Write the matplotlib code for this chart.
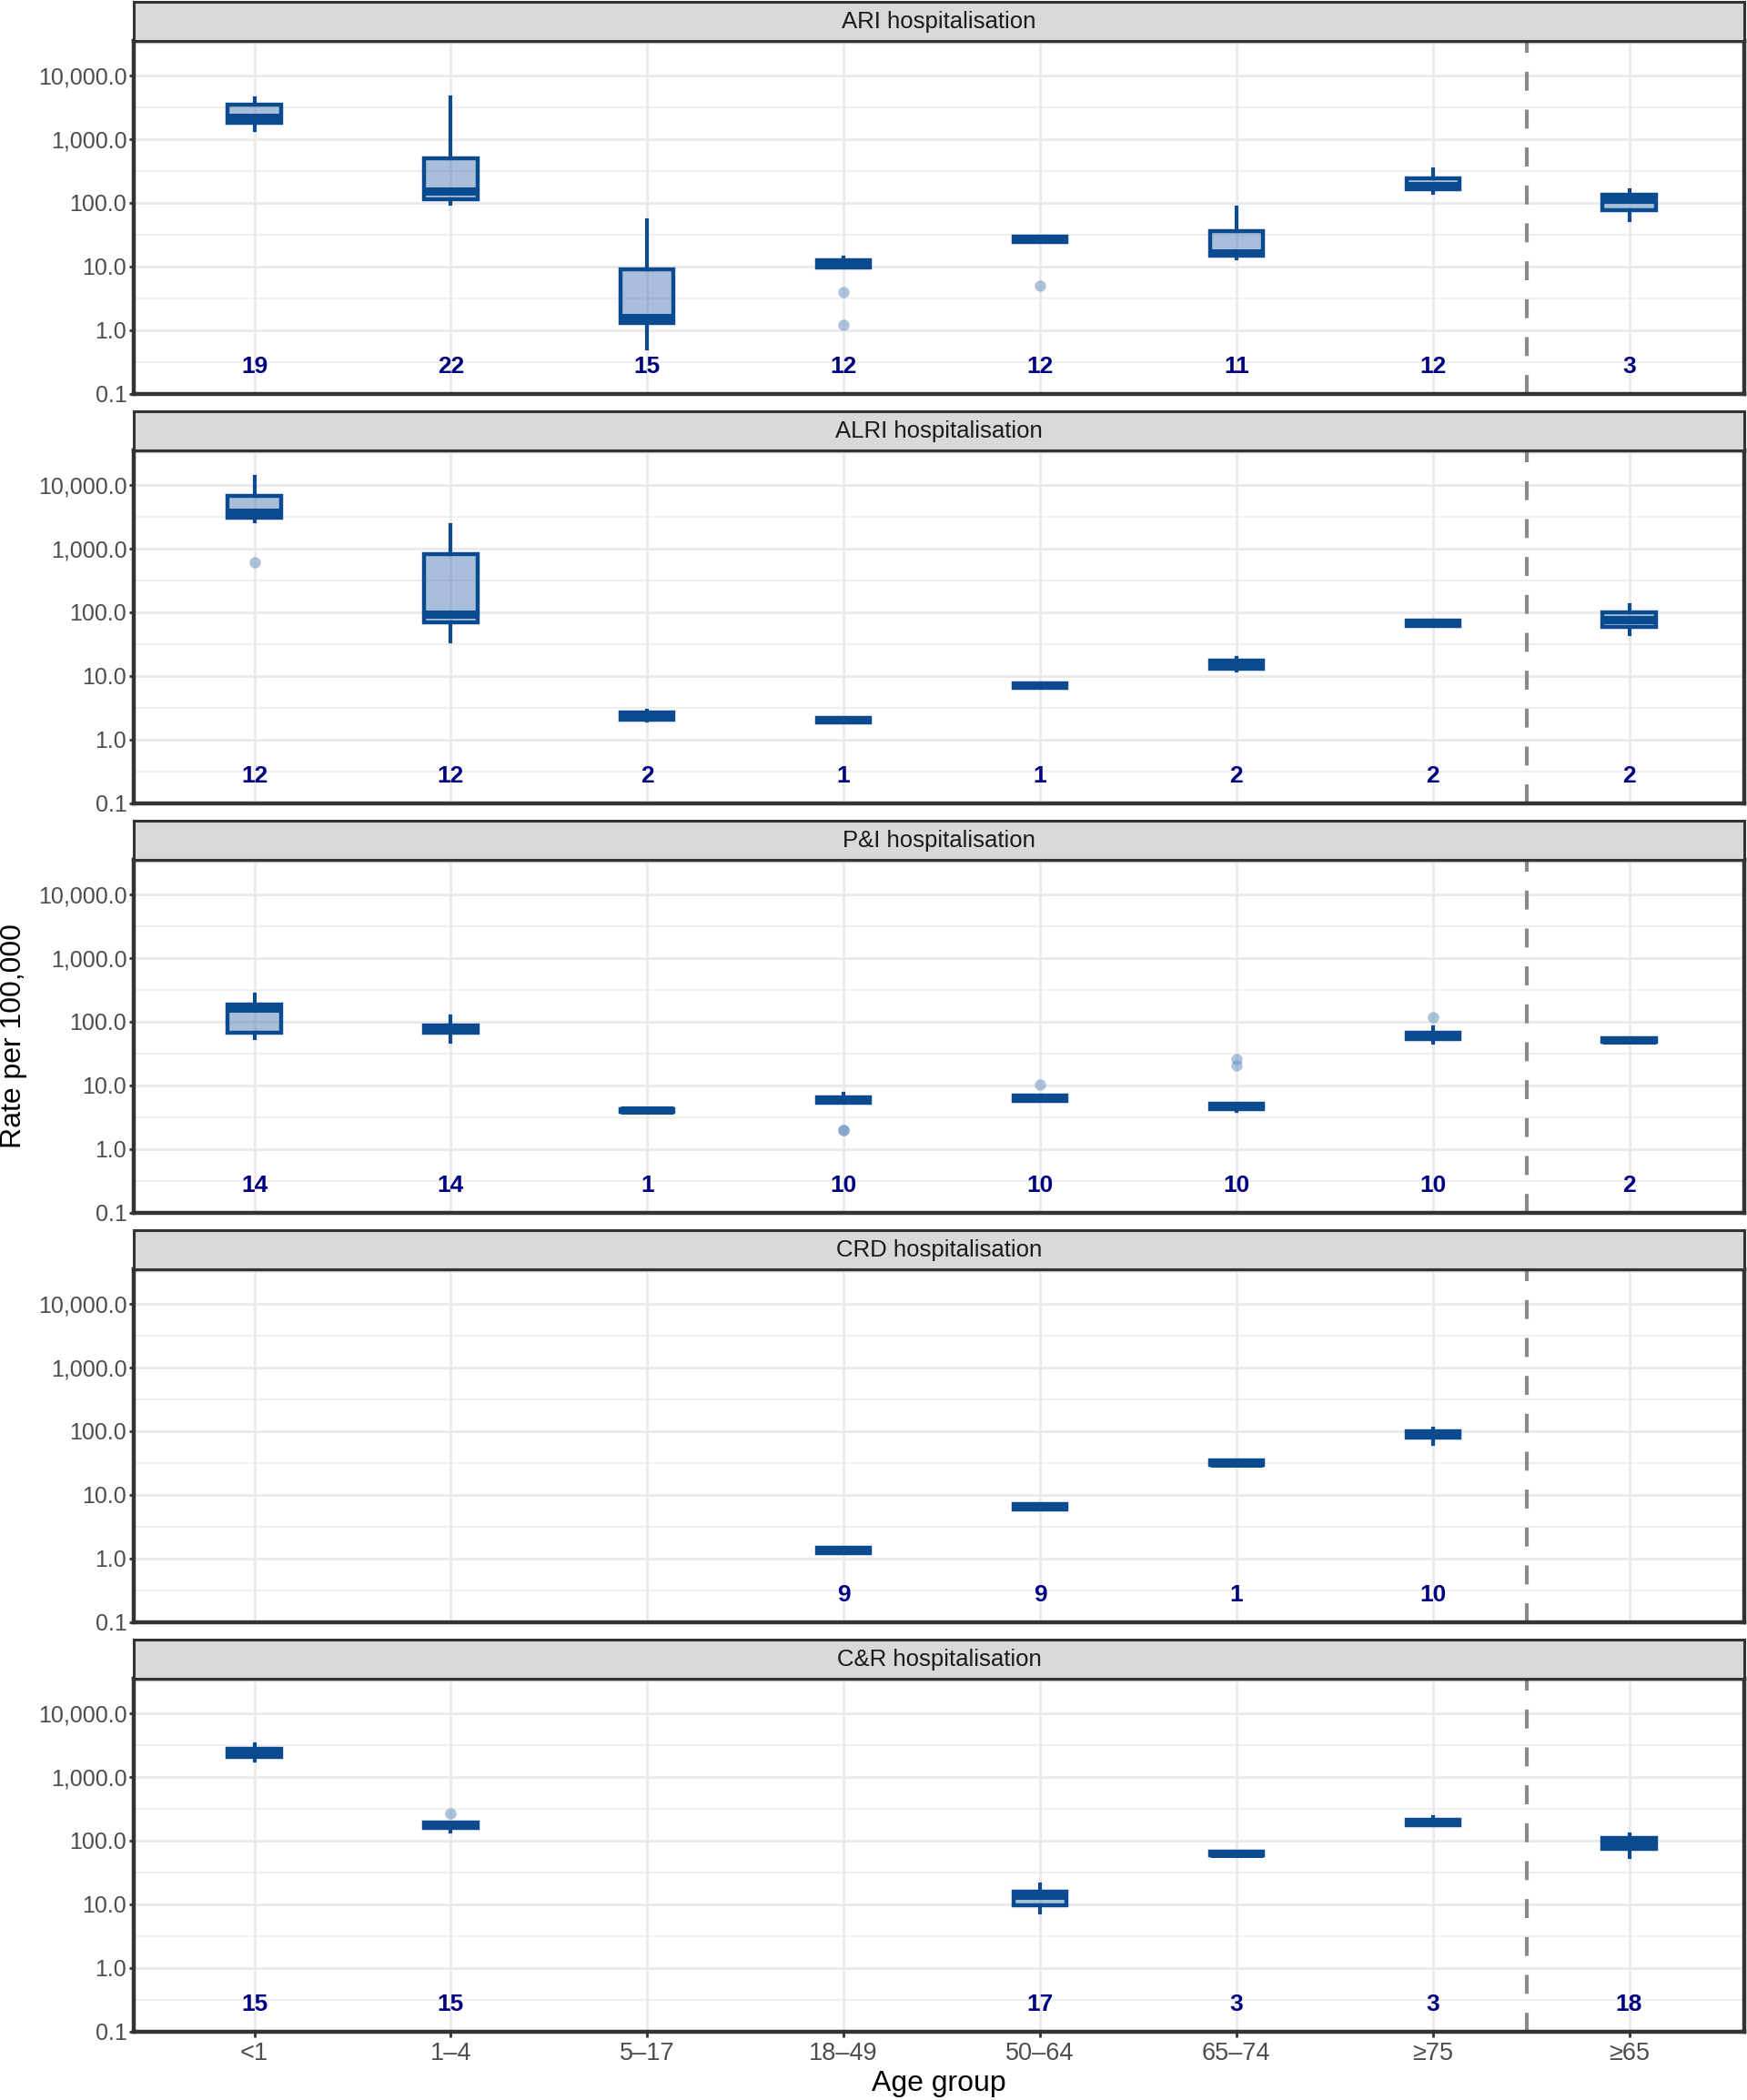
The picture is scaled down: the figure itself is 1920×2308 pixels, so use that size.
import matplotlib.pyplot as plt
from matplotlib.ticker import FixedLocator, FuncFormatter, NullFormatter

plt.rcParams['font.family'] = ['Liberation Sans', 'DejaVu Sans']

AGE_GROUPS = ['<1', '1–4', '5–17', '18–49', '50–64', '65–74', '≥75', '≥65']
PANELS = ['ARI hospitalisation', 'ALRI hospitalisation', 'P&I hospitalisation',
          'CRD hospitalisation', 'C&R hospitalisation']

# (whislo, q1, median, q3, whishi) per age group, None = no estimate
ARI_BOX = [(1390, 1810, 2170, 3490, 4400), (97, 114, 151, 500, 4540),
           (0.52, 1.3, 1.6, 9.06, 53.6), (9.75, 9.75, 11, 12.5, 13.9),
           (24.3, 24.3, 27, 29.6, 29.6), (13.5, 14.8, 16.6, 36, 85),
           (145, 164, 184, 243, 338), (53, 77, 112, 135, 158)]
ALRI_BOX = [(2700, 3060, 3660, 6740, 13450), (35, 70, 92, 820, 2350),
            (2.0, 2.06, 2.35, 2.68, 2.9), (1.87, 1.87, 2.03, 2.2, 2.2),
            (6.5, 6.5, 7.1, 7.7, 7.7), (12.3, 13, 15, 17.5, 19),
            (61, 61, 67, 74, 74), (45, 59, 77, 100, 130)]
PI_BOX = [(55, 68, 161, 185, 270), (49, 67, 77, 88, 122),
          (3.85, 3.85, 4.05, 4.25, 4.25), (5.4, 5.4, 5.9, 6.5, 7.4),
          (5.7, 5.7, 6.3, 7.0, 7.0), (4.0, 4.25, 4.7, 5.2, 5.2),
          (47, 53.6, 60, 67.5, 81), (48.5, 48.5, 51.7, 55, 55)]
CRD_BOX = [None, None, None, (1.22, 1.22, 1.35, 1.48, 1.48),
           (5.9, 5.9, 6.5, 7.2, 7.2), (29.6, 29.6, 32, 35, 35),
           (63, 79, 90, 100, 110), None]
CR_BOX = [(1800, 2060, 2400, 2770, 3270), (140, 158, 175, 193, 193),
          None, None, (7.4, 9.7, 13.9, 15.8, 20.6),
          (59, 59, 63, 67.5, 67.5), (175, 175, 195, 213, 235),
          (55, 74, 90, 110, 126)]

ARI_OUT = [[], [], [], [4.0, 1.2], [5.0], [], [], []]
ALRI_OUT = [[611], [], [], [], [], [], [], []]
PI_OUT = [[], [], [], [2.0, 2.0], [10.3], [26, 20.5], [118], []]
CRD_OUT = [[], [], [], [], [], [], [], []]
CR_OUT = [[], [270], [], [], [], [], [], []]

ARI_N = [19, 22, 15, 12, 12, 11, 12, 3]
ALRI_N = [12, 12, 2, 1, 1, 2, 2, 2]
PI_N = [14, 14, 1, 10, 10, 10, 10, 2]
CRD_N = [None, None, None, 9, 9, 1, 10, None]
CR_N = [15, 15, None, None, 17, 3, 3, 18]

panel_boxes = [ARI_BOX, ALRI_BOX, PI_BOX, CRD_BOX, CR_BOX]
panel_out = [ARI_OUT, ALRI_OUT, PI_OUT, CRD_OUT, CR_OUT]
panel_n = [ARI_N, ALRI_N, PI_N, CRD_N, CR_N]

DARK = '#0a4a8f'
FILL = (0.25, 0.44, 0.68, 0.45)
W, H = 1920, 2308

fig = plt.figure(figsize=(W / 100, H / 100), dpi=100)

for k, title in enumerate(PANELS):
    top = 45 + 450 * k
    bottom = 433 + 450 * k
    ax = fig.add_axes([147 / W, 1 - bottom / H, 1770 / W, (bottom - top) / H])
    strip = fig.add_axes([147 / W, 1 - top / H, 1770 / W, 43.5 / H])
    strip.set_facecolor('#d9d9d9')
    strip.set_xticks([])
    strip.set_yticks([])
    for s in strip.spines.values():
        s.set_color('#333333')
        s.set_linewidth(2.2)
    strip.text(0.5, 0.48, title, ha='center', va='center', fontsize=18.5, color='#1a1a1a')

    stats, pos = [], []
    for i, b in enumerate(panel_boxes[k]):
        if b is None:
            continue
        lo, q1, med, q3, hi = b
        stats.append(dict(whislo=lo, q1=q1, med=med, q3=q3, whishi=hi,
                          fliers=panel_out[k][i]))
        pos.append(i + 1)

    ax.set_yscale('log')
    ax.bxp(stats, positions=pos, widths=0.27, patch_artist=True, showcaps=False,
           boxprops=dict(facecolor=FILL, edgecolor=DARK, linewidth=3.2),
           medianprops=dict(color=DARK, linewidth=6.5, solid_capstyle='butt'),
           whiskerprops=dict(color=DARK, linewidth=3.0),
           flierprops=dict(marker='o', markerfacecolor='#6d93c0', markeredgecolor='none',
                           markersize=9, alpha=0.55),
           zorder=3)

    for i, n in enumerate(panel_n[k]):
        if n is not None:
            ax.text(i + 1, 0.27, str(n), ha='center', va='center', fontsize=19,
                    fontweight='bold', color='#000080', zorder=4)

    ax.axvline(7.48, color='#8a8a8a', linewidth=3, dashes=(5, 5), zorder=2)

    ax.set_xlim(0.386, 8.586)
    ax.set_ylim(0.1, 10 ** 4.54)
    ax.yaxis.set_major_locator(FixedLocator([0.1, 1, 10, 100, 1000, 10000]))
    ax.yaxis.set_major_formatter(FuncFormatter(lambda v, p: f'{v:,.1f}'))
    ax.yaxis.set_minor_locator(FixedLocator([10 ** (e + 0.5) for e in range(-1, 5)]))
    ax.yaxis.set_minor_formatter(NullFormatter())
    ax.set_xticks(range(1, len(AGE_GROUPS) + 1))
    ax.set_axisbelow(True)
    ax.grid(True, which='major', color='#ebebeb', linewidth=2.2)
    ax.grid(True, which='minor', axis='y', color='#ebebeb', linewidth=1.1)
    ax.tick_params(axis='y', which='major', length=3.5, width=2, color='#333333',
                   labelsize=18, labelcolor='#4d4d4d', pad=2)
    ax.tick_params(axis='y', which='minor', length=0)
    if k == len(PANELS) - 1:
        ax.set_xticklabels(AGE_GROUPS)
        ax.tick_params(axis='x', length=4, width=2, color='#333333',
                       labelsize=19.5, labelcolor='#4d4d4d', pad=4)
    else:
        ax.tick_params(axis='x', bottom=False, labelbottom=False)
    for s in ax.spines.values():
        s.set_color('#333333')
        s.set_linewidth(3.2)
        s.set_zorder(5)

fig.text(1032 / W, 1 - 2290 / H, 'Age group', ha='center', va='center', fontsize=23)
fig.text(15 / W, 1 - 1139 / H, 'Rate per 100,000', ha='center', va='center',
         rotation=90, fontsize=23)

fig.savefig('out.png', dpi=100)
